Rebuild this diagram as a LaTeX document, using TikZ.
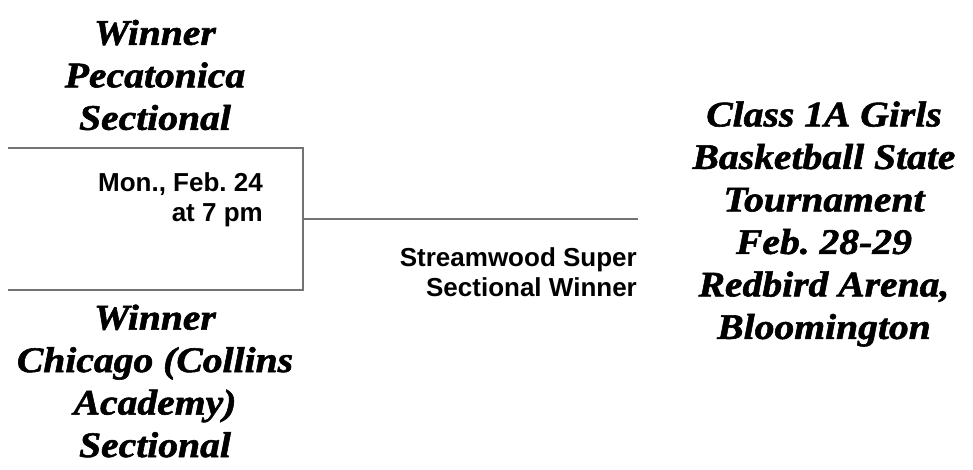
\documentclass[tikz,border=0pt]{standalone}
\usepackage{fontspec}
\setmainfont{Liberation Serif}
\setsansfont{Liberation Sans}
\newfontfamily\teamfont{Liberation Serif}[BoldItalicFeatures={FakeStretch=1.1,FakeBold=1.6}]
\usetikzlibrary{positioning}
\frenchspacing
\tikzset{
	team/.style={font=\teamfont\bfseries\itshape\fontsize{36}{42.5}\selectfont, align=center, inner sep=0pt},
	info/.style={font=\sffamily\bfseries\fontsize{26}{29.5}\selectfont, align=right, inner sep=0pt},
	bracket/.style={draw=black!55, line width=1.1pt}
}
\begin{document}
\begin{tikzpicture}[x=1pt,y=-1pt]
					\useasboundingbox (0,0) rectangle (973,470);
					%BRACKET
					\coordinate (tl) at (8,148);
					\coordinate (tr) at (303,148);
					\coordinate (bl) at (8,290);
					\coordinate (br) at (303,290);
					\coordinate (m) at (303,219);
					\coordinate (e) at (638,219);
					\draw[bracket] (tl) -- (tr) -- (br) -- (bl);
					\draw[bracket] (m) -- (e);
					%TEAMS
					\node[team] (pec) at (155,75) {Winner\\Pecatonica\\Sectional};
					\node[team] (chi) at (155,381) {Winner\\Chicago (Collins\\Academy)\\Sectional};
					\node[team] (state) at (824,224) {Class 1A Girls\\Basketball State\\Tournament\\Feb. 28-29\\Redbird Arena,\\Bloomington};
					%DATES
					\node[info,anchor=east] (date) at (263,200) {Mon., Feb. 24\\at 7 pm};
					\node[info,anchor=east] (super) at (637,272) {Streamwood Super\\Sectional Winner};
\end{tikzpicture}
\end{document}
